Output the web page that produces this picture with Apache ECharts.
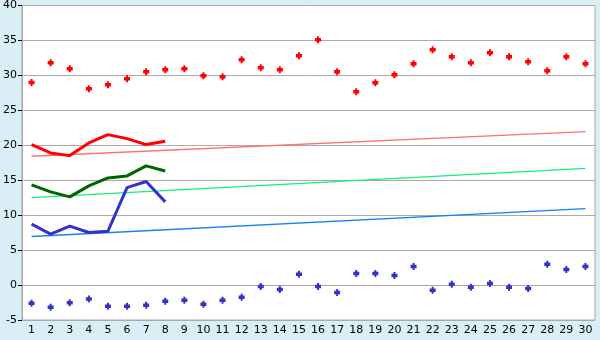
<!DOCTYPE html>
<html>
<head>
<meta charset="utf-8">
<script src="https://cdn.jsdelivr.net/npm/echarts@6/dist/echarts.min.js"></script>
<style>
html,body{margin:0;padding:0;background:#DAEFF5;}
#c{width:600px;height:340px;}
</style>
</head>
<body>
<div id="c"></div>
<script>
var categories = ['1','2','3','4','5','6','7','8','9','10','11','12','13','14','15','16','17','18','19','20','21','22','23','24','25','26','27','28','29','30'];
var redDots = [29.0,31.8,30.95,28.1,28.67,29.52,30.52,30.81,30.95,29.95,29.81,32.24,31.1,30.81,32.81,35.1,30.52,27.67,28.95,30.1,31.67,33.67,32.67,31.81,33.24,32.67,31.95,30.67,32.67,31.67];
var blueDots = [-2.62,-3.19,-2.52,-2.0,-3.05,-3.05,-2.9,-2.33,-2.19,-2.76,-2.19,-1.76,-0.19,-0.62,1.53,-0.19,-1.05,1.67,1.67,1.38,2.67,-0.76,0.1,-0.33,0.24,-0.33,-0.48,2.96,2.24,2.67];
var redLine = [20.1,18.9,18.52,20.33,21.52,20.95,20.1,20.57];
var greenLine = [14.33,13.33,12.62,14.19,15.33,15.62,17.05,16.33];
var blueLine = [8.71,7.29,8.43,7.52,7.71,13.95,14.81,11.9];
var redTrend = [18.43, 21.95];
var greenTrend = [12.52, 16.7];
var blueTrend = [6.95, 10.95];
var yTicks = {min:-5, max:40, interval:5};

var marker = 'path://M2,0L4,0L4,1.5L6,1.5L6,4.5L4,4.5L4,6L2,6L2,4.5L0,4.5L0,1.5L2,1.5Z';
function trend(v){ return [[0, v[0]], [categories.length-1, v[1]]]; }
function dots(data, color){
  return {type:'scatter', data:data, symbol:marker, symbolSize:[6,7], itemStyle:{color:color, opacity:1}, silent:true, z:5};
}
function line(data, color, w){
  return {type:'line', data:data, symbol:'none', lineStyle:{color:color, width:w}, silent:true, z:4};
}
var chart = echarts.init(document.getElementById('c'), null, {renderer:'canvas'});
chart.setOption({
  animation:false,
  backgroundColor:'#DAEFF5',
  grid:{left:20, top:5, right:5, bottom:20, show:true, backgroundColor:'#FFFFFF', borderColor:'#A8A8A8', borderWidth:1},
  xAxis:{type:'category', data:categories, boundaryGap:true,
    axisLine:{lineStyle:{color:'#A8A8A8', width:1}},
    axisTick:{alignWithLabel:true, length:5, lineStyle:{color:'#000000'}},
    axisLabel:{color:'#000', fontFamily:'DejaVu Sans', fontSize:11, margin:5, interval:0},
    splitLine:{show:false}},
  yAxis:{type:'value', min:yTicks.min, max:yTicks.max, interval:yTicks.interval,
    axisLine:{show:true, lineStyle:{color:'#A8A8A8', width:1}},
    axisTick:{show:true, length:4, lineStyle:{color:'#000000'}},
    axisLabel:{color:'#000', fontFamily:'DejaVu Sans', fontSize:11, margin:5},
    splitLine:{show:true, lineStyle:{color:'#AAAAAA', width:1}}},
  series:[
    line(trend(redTrend), '#FF7070', 1.3),
    line(trend(greenTrend), '#11F080', 1.3),
    line(trend(blueTrend), '#1580F0', 1.3),
    line(redLine, '#FF0000', 3),
    line(greenLine, '#006400', 3),
    line(blueLine, '#3333CC', 3),
    dots(redDots, '#FF0000'),
    dots(blueDots, '#3333C8')
  ]
});
</script>
</body>
</html>
